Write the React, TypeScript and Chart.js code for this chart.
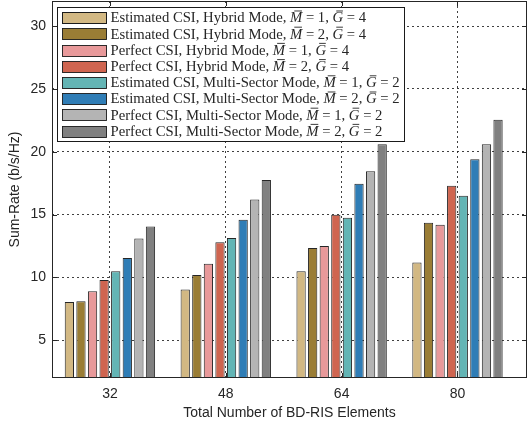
import React, { useEffect, useRef } from 'react';
import { Chart, registerables } from 'chart.js';

Chart.register(...registerables);

// ---------- data ----------
const categories = [32, 48, 64, 80];
const yTickValues = [5, 10, 15, 20, 25, 30];

const csiTypes = ['Estimated CSI', 'Estimated CSI', 'Perfect CSI', 'Perfect CSI', 'Estimated CSI', 'Estimated CSI', 'Perfect CSI', 'Perfect CSI'];
const modeNames = ['Hybrid Mode', 'Hybrid Mode', 'Hybrid Mode', 'Hybrid Mode', 'Multi-Sector Mode', 'Multi-Sector Mode', 'Multi-Sector Mode', 'Multi-Sector Mode'];
const mBarValues = [1, 2, 1, 2, 1, 2, 1, 2];
const gBarValues = [4, 4, 4, 4, 2, 2, 2, 2];

const estHybridM1 = [8.05, 9.05, 10.5, 11.2];
const estHybridM2 = [8.1, 10.2, 12.35, 14.35];
const perHybridM1 = [8.9, 11.1, 12.5, 14.2];
const perHybridM2 = [9.8, 12.8, 15.0, 17.3];
const estSectorM1 = [10.5, 13.15, 14.75, 16.5];
const estSectorM2 = [11.55, 14.6, 17.45, 19.4];
const perSectorM1 = [13.1, 16.2, 18.45, 20.6];
const perSectorM2 = [14.05, 17.75, 20.6, 22.55];

const seriesValues = [estHybridM1, estHybridM2, perHybridM1, perHybridM2, estSectorM1, estSectorM2, perSectorM1, perSectorM2];
const seriesColors = ['#D2B883', '#9A7D35', '#E8999A', '#CF6550', '#63B5B5', '#2F7DB6', '#B4B4B4', '#808080'];

const TEXT = '#262626';
const SERIF = '"Liberation Serif", "DejaVu Serif", serif';
const SANS = '"Liberation Sans", Arial, sans-serif';

// ---------- plugins ----------
const framePlugin = {
  id: 'frame',
  afterDatasetsDraw(chart: any) {
    const { ctx, chartArea: a, scales } = chart;
    ctx.save();
    ctx.strokeStyle = TEXT;
    ctx.lineWidth = 1;
    ctx.setLineDash([]);
    ctx.strokeRect(Math.round(a.left) + 0.5, Math.round(a.top) + 0.5, Math.round(a.right - a.left) - 1, Math.round(a.bottom - a.top) - 1);
    const tl = 5;
    ctx.beginPath();
    yTickValues.forEach((v) => {
      const y = Math.round(scales.y.getPixelForValue(v)) + 0.5;
      ctx.moveTo(a.left, y); ctx.lineTo(a.left + tl, y);
      ctx.moveTo(a.right, y); ctx.lineTo(a.right - tl, y);
    });
    categories.forEach((v) => {
      const x = Math.round(scales.x.getPixelForValue(v)) + 0.5;
      ctx.moveTo(x, a.bottom); ctx.lineTo(x, a.bottom - tl);
      ctx.moveTo(x, a.top); ctx.lineTo(x, a.top + tl);
    });
    ctx.stroke();
    ctx.restore();
  },
};

const legendPlugin = {
  id: 'insideLegend',
  afterDraw(chart: any) {
    const { ctx, chartArea: a } = chart;
    const fs = 14.7;
    const rowH = 16.2;
    const bx = Math.round(a.left) + 5.5;
    const by = Math.round(a.top) + 6.5;
    const bw = 347;
    const bh = Math.round(rowH * chart.data.datasets.length + 4);
    ctx.save();
    ctx.fillStyle = '#ffffff';
    ctx.fillRect(bx, by, bw, bh);
    ctx.strokeStyle = '#1a1a1a';
    ctx.lineWidth = 1;
    ctx.strokeRect(bx, by, bw, bh);
    chart.data.datasets.forEach((ds: any, i: number) => {
      const cy = by + 2 + rowH * (i + 0.5);
      ctx.fillStyle = ds.backgroundColor;
      const sy = Math.round(cy - 5.5) + 0.5;
      ctx.fillRect(bx + 5, sy, 44, 11);
      ctx.strokeStyle = '#1a1a1a';
      ctx.strokeRect(bx + 5, sy, 44, 11);
      const segs: [string, boolean][] = [
        [`${csiTypes[i]}, ${modeNames[i]}, `, false],
        ['M', true],
        [` = ${mBarValues[i]}, `, false],
        ['G', true],
        [` = ${gBarValues[i]}`, false],
      ];
      let x = bx + 53;
      const base = cy + fs * 0.33;
      ctx.fillStyle = TEXT;
      ctx.textBaseline = 'alphabetic';
      ctx.textAlign = 'left';
      segs.forEach(([t, it]) => {
        ctx.font = `${it ? 'italic ' : ''}${fs}px ${SERIF}`;
        ctx.fillText(t, x, base);
        const w = ctx.measureText(t).width;
        if (it) {
          ctx.strokeStyle = TEXT;
          ctx.lineWidth = 0.9;
          ctx.beginPath();
          const my = base - fs * 0.78;
          ctx.moveTo(x + w * 0.35, my);
          ctx.lineTo(x + w * 0.98, my);
          ctx.stroke();
        }
        x += w;
      });
    });
    ctx.restore();
  },
};

export default function App() {
  const ref = useRef<HTMLCanvasElement | null>(null);

  useEffect(() => {
    if (!ref.current) return;
    const datasets = seriesValues.map((vals, i) => ({
      label: `${csiTypes[i]}, ${modeNames[i]}, M\u0304 = ${mBarValues[i]}, G\u0304 = ${gBarValues[i]}`,
      data: categories.map((c, j) => ({ x: c, y: vals[j] })),
      backgroundColor: seriesColors[i],
      borderColor: '#262626',
      borderWidth: 1,
      categoryPercentage: 0.8,
      barPercentage: 0.8,
    }));
    const chart = new Chart(ref.current, {
      type: 'bar',
      data: { datasets },
      options: {
        responsive: false,
        animation: false,
        layout: { padding: { top: 1, right: 1, left: 0, bottom: 0 } },
        plugins: { legend: { display: false }, tooltip: { enabled: false } },
        scales: {
          x: {
            type: 'linear',
            offset: false,
            min: 24,
            max: 89.6,
            afterBuildTicks: (s: any) => { s.ticks = categories.map((v) => ({ value: v })); },
            afterFit: (s: any) => { s.height = 54; s.paddingLeft = 0; s.paddingRight = 0; },
            grid: { drawTicks: false, offset: false, color: 'rgba(30,30,30,0.85)', lineWidth: 1 },
            border: { display: false, dash: [2, 3] },
            ticks: { color: TEXT, font: { family: SANS, size: 14 }, padding: 8, maxRotation: 0 },
            title: { display: true, text: 'Total Number of BD-RIS Elements', color: TEXT, font: { family: SANS, size: 14 }, padding: { top: 0, bottom: 10 } },
          },
          y: {
            type: 'linear',
            min: 2,
            max: 32,
            afterBuildTicks: (s: any) => { s.ticks = yTickValues.map((v) => ({ value: v })); },
            afterFit: (s: any) => { s.width = 52; s.paddingTop = 0; s.paddingBottom = 0; },
            grid: { drawTicks: false, color: 'rgba(30,30,30,0.85)', lineWidth: 1 },
            border: { display: false, dash: [2, 3] },
            ticks: { color: TEXT, font: { family: SANS, size: 14 }, padding: 6 },
            title: { display: true, text: 'Sum-Rate (b/s/Hz)', color: TEXT, font: { family: SANS, size: 14 }, padding: { top: 7, bottom: 0 } },
          },
        },
      },
      plugins: [framePlugin, legendPlugin],
    } as any);
    return () => chart.destroy();
  }, []);

  return (
    <div style={{ position: 'absolute', left: 0, top: 0, width: 528, height: 432, background: '#fff' }}>
      <canvas ref={ref} width={528} height={432} />
    </div>
  );
}
